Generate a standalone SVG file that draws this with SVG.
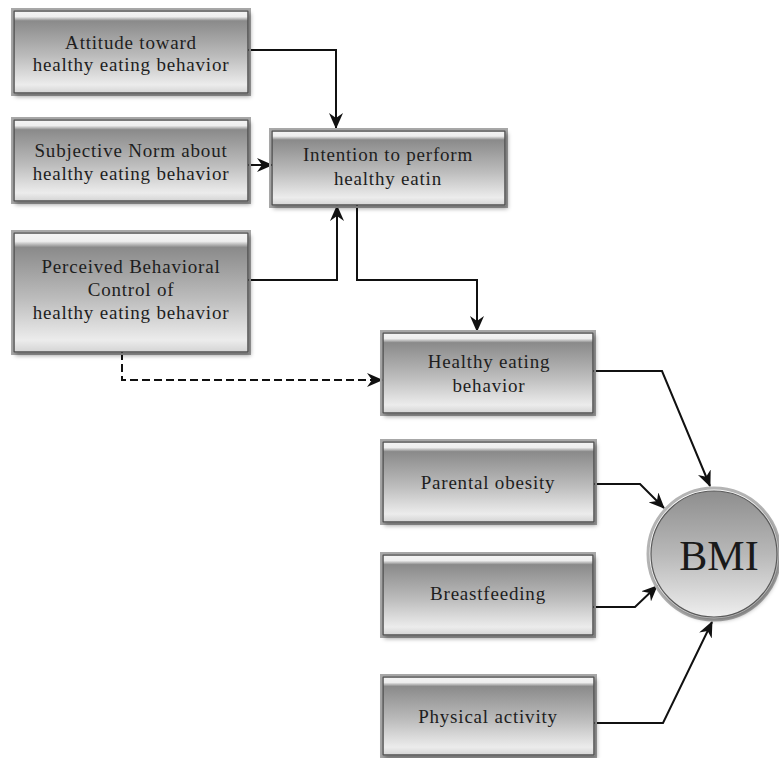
<svg xmlns="http://www.w3.org/2000/svg" width="779" height="758" viewBox="0 0 779 758">
<defs>
  <linearGradient id="boxGrad" x1="0" y1="0" x2="0" y2="1">
    <stop offset="0" stop-color="#f4f4f4"/>
    <stop offset="0.07" stop-color="#eeeeee"/>
    <stop offset="0.12" stop-color="#8a8a8a"/>
    <stop offset="0.55" stop-color="#bcbcbc"/>
    <stop offset="0.9" stop-color="#ececec"/>
    <stop offset="1" stop-color="#d4d4d4"/>
  </linearGradient>
  <linearGradient id="circGrad" x1="0" y1="0" x2="0" y2="1">
    <stop offset="0" stop-color="#8e8e8e"/>
    <stop offset="0.5" stop-color="#b8b8b8"/>
    <stop offset="1" stop-color="#eeeeee"/>
  </linearGradient>
  <filter id="shadow" x="-10%" y="-10%" width="130%" height="140%">
    <feDropShadow dx="2" dy="3" stdDeviation="2" flood-color="#000" flood-opacity="0.35"/>
  </filter>
  <marker id="arrow" viewBox="0 0 16 14" refX="15" refY="7" markerWidth="16" markerHeight="14" markerUnits="userSpaceOnUse" orient="auto">
    <path d="M0,0 L16,7 L0,14 L5,7 Z" fill="#111"/>
  </marker>
  <style>
    .rim { fill: none; stroke: #a8a8a8; stroke-width: 2; }
    .box { fill: url(#boxGrad); stroke: #505050; stroke-width: 1.5; filter: url(#shadow); }
    .lbl { font-family: "Liberation Serif", "Times New Roman", serif; font-size: 19px; letter-spacing: 0.8px; fill: #1e1e1e; text-anchor: middle; }
    .conn { fill: none; stroke: #111; stroke-width: 2; marker-end: url(#arrow); }
    .dash { stroke-dasharray: 8 4; }
  </style>
</defs>
<rect width="779" height="758" fill="#ffffff"/>

<g id="connectors">
  <path class="conn" d="M248,50 H336 V128"/>
  <path class="conn" d="M248,165 H272"/>
  <path class="conn" d="M248,280 H337 V206"/>
  <path class="conn" d="M357,205 V280 H477 V331"/>
  <path class="conn dash" d="M122,352 V380 H382"/>
  <path class="conn" d="M593,371 H662 L710,486"/>
  <path class="conn" d="M594,484 H640 L664,508"/>
  <path class="conn" d="M593,607 H635 L657,586"/>
  <path class="conn" d="M594,723 H663 L712,622"/>
</g>

<g id="attitude">
  <rect class="rim" x="12" y="9" width="238" height="86"/>
  <rect class="box" x="14" y="11" width="234" height="82"/>
  <text class="lbl" x="131" y="49">Attitude toward</text>
  <text class="lbl" x="131" y="71">healthy eating behavior</text>
</g>

<g id="subjective">
  <rect class="rim" x="12" y="118" width="238" height="85"/>
  <rect class="box" x="14" y="120" width="234" height="81"/>
  <text class="lbl" x="131" y="157">Subjective Norm about</text>
  <text class="lbl" x="131" y="180">healthy eating behavior</text>
</g>

<g id="intention">
  <rect class="rim" x="270" y="129" width="237" height="78"/>
  <rect class="box" x="272" y="131" width="233" height="74"/>
  <text class="lbl" x="388" y="161">Intention to perform</text>
  <text class="lbl" x="388" y="185">healthy eatin</text>
</g>

<g id="perceived">
  <rect class="rim" x="12" y="231" width="238" height="123"/>
  <rect class="box" x="14" y="233" width="234" height="119"/>
  <text class="lbl" x="131" y="273">Perceived Behavioral</text>
  <text class="lbl" x="131" y="296">Control of</text>
  <text class="lbl" x="131" y="319">healthy eating behavior</text>
</g>

<g id="healthy">
  <rect class="rim" x="381" y="331" width="214" height="84"/>
  <rect class="box" x="383" y="333" width="210" height="80"/>
  <text class="lbl" x="489" y="368">Healthy eating</text>
  <text class="lbl" x="489" y="392">behavior</text>
</g>

<g id="parental">
  <rect class="rim" x="381" y="440" width="215" height="84"/>
  <rect class="box" x="383" y="442" width="211" height="80"/>
  <text class="lbl" x="488" y="489">Parental obesity</text>
</g>

<g id="breastfeeding">
  <rect class="rim" x="381" y="553" width="214" height="84"/>
  <rect class="box" x="383" y="555" width="210" height="80"/>
  <text class="lbl" x="488" y="600">Breastfeeding</text>
</g>

<g id="physical">
  <rect class="rim" x="381" y="675" width="215" height="82"/>
  <rect class="box" x="383" y="677" width="211" height="78"/>
  <text class="lbl" x="488" y="723">Physical activity</text>
</g>

<g id="bmi">
  <circle cx="714" cy="554" r="66" fill="none" stroke="#b4b4b4" stroke-width="3"/>
  <circle cx="714" cy="554" r="63" fill="url(#circGrad)" stroke="#5a5a5a" stroke-width="1.2" filter="url(#shadow)"/>
  <text x="719" y="570" font-family="Liberation Serif, Times New Roman, serif" font-size="42" fill="#1a1a1a" text-anchor="middle">BMI</text>
</g>
</svg>
